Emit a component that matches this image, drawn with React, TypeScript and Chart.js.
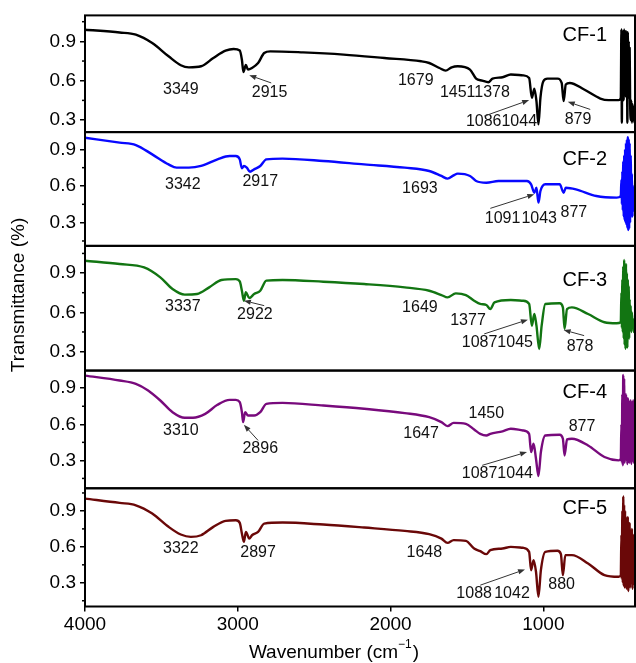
import { useEffect, useRef } from 'react';
import { Chart, registerables } from 'chart.js';

Chart.register(...registerables);

const FONT = 'Arial, "Liberation Sans", Helvetica, sans-serif';

// ---- axis ticks ----
const xTickValues = [4000, 3000, 2000, 1000];
const yTickValues = [0.3, 0.6, 0.9];
const yMinorValues = [0.15, 0.45, 0.75, 1.05];

// ---- series ----
const seriesNames = ['CF-1', 'CF-2', 'CF-3', 'CF-4', 'CF-5'];

const cf1Wn = [4000, 3773, 3667, 3560, 3453, 3373, 3320, 3240, 3160, 3080, 3027, 2987, 2973, 2963, 2947, 2933, 2907, 2867, 2827, 2787, 2573, 2307, 2040, 1800, 1747, 1680, 1640, 1600, 1560, 1480, 1440, 1400, 1360, 1333, 1267, 1213, 1133, 1093, 1075, 1059, 1045, 1032, 1019, 1000, 973, 907, 880, 867, 853, 827, 733, 627, 573, 507, 493];
const cf1T = [0.989, 0.968, 0.951, 0.887, 0.786, 0.718, 0.702, 0.71, 0.773, 0.829, 0.842, 0.83, 0.76, 0.667, 0.72, 0.685, 0.697, 0.735, 0.811, 0.824, 0.816, 0.799, 0.773, 0.748, 0.735, 0.697, 0.677, 0.702, 0.71, 0.685, 0.616, 0.601, 0.588, 0.616, 0.626, 0.647, 0.641, 0.621, 0.47, 0.54, 0.444, 0.267, 0.47, 0.596, 0.616, 0.616, 0.583, 0.444, 0.571, 0.583, 0.533, 0.464, 0.452, 0.452, 0.47];

const cf2Wn = [4000, 3773, 3667, 3560, 3453, 3400, 3320, 3240, 3133, 3053, 3013, 2987, 2973, 2960, 2941, 2920, 2893, 2853, 2813, 2707, 2440, 2173, 1907, 1747, 1667, 1627, 1587, 1560, 1480, 1440, 1373, 1293, 1107, 1080, 1059, 1045, 1032, 1019, 987, 893, 867, 853, 787, 653, 520, 493];
const cf2T = [0.995, 0.955, 0.935, 0.859, 0.777, 0.75, 0.75, 0.764, 0.818, 0.845, 0.845, 0.818, 0.745, 0.764, 0.75, 0.717, 0.736, 0.764, 0.818, 0.824, 0.805, 0.777, 0.75, 0.723, 0.682, 0.66, 0.687, 0.701, 0.682, 0.641, 0.627, 0.641, 0.641, 0.614, 0.545, 0.586, 0.464, 0.559, 0.614, 0.614, 0.545, 0.586, 0.573, 0.518, 0.505, 0.518];

const cf3Wn = [4000, 3773, 3613, 3507, 3427, 3347, 3267, 3187, 3107, 3013, 2987, 2973, 2960, 2947, 2925, 2893, 2853, 2813, 2707, 2440, 2173, 1907, 1747, 1667, 1627, 1573, 1507, 1453, 1413, 1373, 1347, 1320, 1213, 1133, 1093, 1075, 1059, 1045, 1027, 1011, 987, 893, 872, 861, 845, 813, 707, 600, 520, 493];
const cf3T = [0.994, 0.969, 0.943, 0.867, 0.778, 0.735, 0.74, 0.791, 0.847, 0.854, 0.836, 0.765, 0.689, 0.753, 0.709, 0.74, 0.765, 0.842, 0.847, 0.834, 0.816, 0.791, 0.765, 0.732, 0.714, 0.745, 0.732, 0.689, 0.664, 0.656, 0.625, 0.676, 0.694, 0.689, 0.664, 0.498, 0.587, 0.498, 0.32, 0.498, 0.664, 0.669, 0.638, 0.473, 0.625, 0.638, 0.587, 0.524, 0.516, 0.524];

const cf4Wn = [4000, 3773, 3667, 3587, 3507, 3427, 3347, 3293, 3213, 3133, 3053, 3013, 2987, 2973, 2965, 2952, 2933, 2893, 2853, 2813, 2707, 2440, 2173, 1907, 1747, 1667, 1627, 1587, 1507, 1453, 1413, 1373, 1347, 1267, 1213, 1133, 1093, 1080, 1064, 1048, 1032, 1016, 987, 893, 872, 861, 845, 813, 707, 600, 507, 493];
const cf4T = [1.005, 0.964, 0.936, 0.881, 0.798, 0.701, 0.654, 0.654, 0.687, 0.762, 0.803, 0.803, 0.784, 0.701, 0.618, 0.701, 0.673, 0.673, 0.701, 0.77, 0.778, 0.756, 0.729, 0.693, 0.659, 0.618, 0.585, 0.612, 0.604, 0.557, 0.521, 0.507, 0.521, 0.541, 0.563, 0.549, 0.521, 0.369, 0.438, 0.314, 0.17, 0.369, 0.507, 0.513, 0.48, 0.341, 0.474, 0.48, 0.424, 0.328, 0.3, 0.314];

const cf5Wn = [4000, 3773, 3667, 3560, 3453, 3373, 3307, 3240, 3160, 3080, 3013, 2987, 2973, 2960, 2947, 2925, 2907, 2867, 2827, 2707, 2440, 2173, 1907, 1747, 1667, 1627, 1587, 1507, 1453, 1413, 1373, 1347, 1267, 1213, 1133, 1093, 1080, 1064, 1048, 1032, 1016, 987, 907, 885, 872, 856, 813, 707, 600, 507, 493];
const cf5T = [1.003, 0.967, 0.947, 0.878, 0.767, 0.703, 0.683, 0.697, 0.767, 0.817, 0.822, 0.8, 0.711, 0.642, 0.725, 0.669, 0.697, 0.725, 0.794, 0.803, 0.786, 0.761, 0.733, 0.706, 0.669, 0.633, 0.656, 0.65, 0.586, 0.564, 0.539, 0.572, 0.586, 0.6, 0.592, 0.558, 0.405, 0.489, 0.392, 0.183, 0.405, 0.558, 0.567, 0.539, 0.364, 0.531, 0.531, 0.461, 0.364, 0.35, 0.364];

// low-wavenumber noisy region (shared wavenumbers)
const noiseWn = [489, 486, 483, 480, 477, 474, 471, 468, 465, 462, 459, 456, 453, 450, 447, 444, 441, 438, 435, 432, 428, 424, 420, 416, 412, 408, 404, 400];
const cf1Noise = [0.99, 0.28, 0.98, 0.5, 0.97, 0.45, 0.99, 0.55, 0.96, 0.48, 0.98, 0.5, 0.95, 0.28, 0.97, 0.5, 0.9, 0.47, 0.85, 0.45, 0.3, 0.45, 0.28, 0.42, 0.3, 0.4, 0.28, 0.35];
const cf2Noise = [0.65, 0.45, 0.72, 0.4, 0.8, 0.35, 0.85, 0.32, 0.9, 0.3, 0.95, 0.28, 0.98, 0.26, 1.0, 0.24, 0.98, 0.25, 0.95, 0.3, 0.85, 0.35, 0.7, 0.35, 0.6, 0.4, 0.55, 0.45];
const cf3Noise = [0.75, 0.48, 0.85, 0.45, 0.95, 0.4, 1.0, 0.35, 0.92, 0.32, 0.97, 0.4, 0.9, 0.33, 0.85, 0.45, 0.8, 0.4, 0.7, 0.5, 0.65, 0.45, 0.6, 0.5, 0.55, 0.45, 0.5, 0.48];
const cf4Noise = [0.6, 0.28, 0.85, 0.26, 1.01, 0.3, 0.98, 0.28, 0.7, 0.35, 0.85, 0.3, 0.78, 0.27, 0.82, 0.3, 0.8, 0.28, 0.75, 0.3, 0.8, 0.27, 0.78, 0.3, 0.8, 0.28, 0.75, 0.3];
const cf5Noise = [0.7, 0.33, 0.9, 0.3, 1.02, 0.28, 0.95, 0.26, 0.9, 0.3, 0.85, 0.25, 0.8, 0.3, 0.85, 0.23, 0.75, 0.3, 0.8, 0.26, 0.7, 0.3, 0.75, 0.25, 0.7, 0.3, 0.65, 0.28];

// ---- peak labels (panel index, text, anchor wavenumber, anchor transmittance) ----
const peakLabels = [
  { p: 0, text: '3349', wn: 3373, t: 0.533 },
  { p: 0, text: '2915', wn: 2792, t: 0.507 },
  { p: 0, text: '1679', wn: 1835, t: 0.604 },
  { p: 0, text: '14511378', wn: 1448, t: 0.507 },
  { p: 0, text: '10861044', wn: 1274, t: 0.287 },
  { p: 0, text: '879', wn: 773, t: 0.305 },
  { p: 1, text: '3342', wn: 3360, t: 0.614 },
  { p: 1, text: '2917', wn: 2853, t: 0.636 },
  { p: 1, text: '1693', wn: 1808, t: 0.581 },
  { p: 1, text: '1091', wn: 1267, t: 0.335 },
  { p: 1, text: '1043', wn: 1027, t: 0.335 },
  { p: 1, text: '877', wn: 800, t: 0.382 },
  { p: 2, text: '3337', wn: 3360, t: 0.646 },
  { p: 2, text: '2922', wn: 2888, t: 0.582 },
  { p: 2, text: '1649', wn: 1808, t: 0.638 },
  { p: 2, text: '1377', wn: 1493, t: 0.536 },
  { p: 2, text: '10871045', wn: 1301, t: 0.371 },
  { p: 2, text: '878', wn: 760, t: 0.338 },
  { p: 3, text: '3310', wn: 3373, t: 0.549 },
  { p: 3, text: '2896', wn: 2853, t: 0.397 },
  { p: 3, text: '1647', wn: 1800, t: 0.521 },
  { p: 3, text: '1450', wn: 1373, t: 0.687 },
  { p: 3, text: '10871044', wn: 1301, t: 0.189 },
  { p: 3, text: '877', wn: 747, t: 0.577 },
  { p: 4, text: '3322', wn: 3373, t: 0.586 },
  { p: 4, text: '2897', wn: 2867, t: 0.55 },
  { p: 4, text: '1648', wn: 1779, t: 0.55 },
  { p: 4, text: '1088', wn: 1453, t: 0.211 },
  { p: 4, text: '1042', wn: 1205, t: 0.211 },
  { p: 4, text: '880', wn: 880, t: 0.286 },
];

const peakArrows = [
  { p: 0, fromWn: 2781, fromT: 0.583, toWn: 2925, toT: 0.642 },
  { p: 0, fromWn: 1387, fromT: 0.33, toWn: 1093, toT: 0.452 },
  { p: 0, fromWn: 693, fromT: 0.381, toWn: 840, toT: 0.439 },
  { p: 1, fromWn: 1347, fromT: 0.417, toWn: 1059, toT: 0.532 },
  { p: 2, fromWn: 2827, fromT: 0.651, toWn: 2960, toT: 0.689 },
  { p: 2, fromWn: 1387, fromT: 0.435, toWn: 1101, toT: 0.544 },
  { p: 2, fromWn: 733, fromT: 0.422, toWn: 867, toT: 0.465 },
  { p: 3, fromWn: 2867, fromT: 0.466, toWn: 2960, toT: 0.596 },
  { p: 3, fromWn: 1400, fromT: 0.259, toWn: 1107, toT: 0.369 },
  { p: 4, fromWn: 1413, fromT: 0.28, toWn: 1120, toT: 0.411 },
];

const nameLabelWn = 583;
const nameLabelT = [0.946, 0.821, 0.841, 0.864, 0.922];

// ---- styling / layout config ----
const seriesColors = ['#000000', '#0808ff', '#127512', '#780a7c', '#6a0808'];
const panelMin = [0.208, 0.11, 0.155, 0.068, 0.102];
const panelMax = [1.098, 1.041, 1.108, 1.047, 1.089];
const panelWeight = [117, 114, 125, 118, 118.5];
const panelIds = ['y1', 'y2', 'y3', 'y4', 'y5'];

const allWn = [cf1Wn, cf2Wn, cf3Wn, cf4Wn, cf5Wn];
const allT = [cf1T, cf2T, cf3T, cf4T, cf5T];
const allNoise = [cf1Noise, cf2Noise, cf3Noise, cf4Noise, cf5Noise];

const decorPlugin = {
  id: 'decor',
  afterDatasetsDraw(chart: any) {
    const ctx = chart.ctx;
    const area = chart.chartArea;
    const xs = chart.scales.x;
    ctx.save();
    // panel boxes and minor ticks
    panelIds.forEach((id) => {
      const s = chart.scales[id];
      ctx.strokeStyle = '#000';
      ctx.lineWidth = 2;
      ctx.strokeRect(area.left, s.top, area.right - area.left, s.bottom - s.top);
      ctx.lineWidth = 1.5;
      yMinorValues.forEach((v) => {
        if (v <= s.min || v >= s.max) return;
        const y = s.getPixelForValue(v);
        ctx.beginPath();
        ctx.moveTo(area.left - 3, y);
        ctx.lineTo(area.left, y);
        ctx.stroke();
      });
    });
    // peak labels
    ctx.fillStyle = '#111';
    ctx.font = `16px ${FONT}`;
    ctx.textAlign = 'center';
    ctx.textBaseline = 'middle';
    peakLabels.forEach((l) => {
      const s = chart.scales[panelIds[l.p]];
      ctx.fillText(l.text, xs.getPixelForValue(l.wn), s.getPixelForValue(l.t));
    });
    // arrows
    ctx.strokeStyle = '#333';
    ctx.fillStyle = '#333';
    ctx.lineWidth = 1;
    peakArrows.forEach((a) => {
      const s = chart.scales[panelIds[a.p]];
      const x0 = xs.getPixelForValue(a.fromWn);
      const y0 = s.getPixelForValue(a.fromT);
      const x1 = xs.getPixelForValue(a.toWn);
      const y1 = s.getPixelForValue(a.toT);
      const ang = Math.atan2(y1 - y0, x1 - x0);
      const hl = 7;
      const hw = 2.6;
      const bx = x1 - hl * Math.cos(ang);
      const by = y1 - hl * Math.sin(ang);
      ctx.beginPath();
      ctx.moveTo(x0, y0);
      ctx.lineTo(bx, by);
      ctx.stroke();
      ctx.beginPath();
      ctx.moveTo(x1, y1);
      ctx.lineTo(bx + hw * Math.sin(ang), by - hw * Math.cos(ang));
      ctx.lineTo(bx - hw * Math.sin(ang), by + hw * Math.cos(ang));
      ctx.closePath();
      ctx.fill();
    });
    // series names
    ctx.fillStyle = '#000';
    ctx.font = `20px ${FONT}`;
    ctx.textAlign = 'right';
    seriesNames.forEach((n, i) => {
      const s = chart.scales[panelIds[i]];
      ctx.fillText(n, xs.getPixelForValue(nameLabelWn), s.getPixelForValue(nameLabelT[i]));
    });
    // y title
    ctx.font = `19px ${FONT}`;
    ctx.textAlign = 'center';
    ctx.save();
    ctx.translate(19, 295);
    ctx.rotate(-Math.PI / 2);
    ctx.fillText('Transmittance (%)', 0, 0);
    ctx.restore();
    // x title with superscript
    const main = 'Wavenumber (cm';
    const sup = '\u22121';
    const tail = ')';
    ctx.font = `19px ${FONT}`;
    const wMain = ctx.measureText(main).width;
    const wTail = ctx.measureText(tail).width;
    ctx.font = `12px ${FONT}`;
    const wSup = ctx.measureText(sup).width;
    const total = wMain + wSup + wTail + 1;
    let x = 334 - total / 2;
    const yT = 653;
    ctx.textAlign = 'left';
    ctx.font = `19px ${FONT}`;
    ctx.fillText(main, x, yT);
    x += wMain;
    ctx.font = `12px ${FONT}`;
    ctx.fillText(sup, x, yT - 8);
    x += wSup + 1;
    ctx.font = `19px ${FONT}`;
    ctx.fillText(tail, x, yT);
    ctx.restore();
  },
};

export default function App() {
  const ref = useRef<HTMLCanvasElement | null>(null);
  useEffect(() => {
    if (!ref.current) return;
    const datasets = seriesNames.map((name, i) => ({
      label: name,
      data: allWn[i].concat(noiseWn).map((w, j) => ({
        x: w,
        y: j < allT[i].length ? allT[i][j] : allNoise[i][j - allT[i].length],
      })),
      yAxisID: panelIds[i],
      borderColor: seriesColors[i],
      borderWidth: 2.4,
      borderJoinStyle: 'round',
      pointRadius: 0,
      cubicInterpolationMode: 'monotone',
      fill: false,
    }));
    const yScale = (i: number) => ({
      type: 'linear',
      position: 'left',
      stack: 'panels',
      stackWeight: panelWeight[i],
      min: panelMin[i],
      max: panelMax[i],
      afterFit: (s: any) => {
        s.width = 85;
      },
      afterBuildTicks: (s: any) => {
        s.ticks = yTickValues.map((v) => ({ value: v }));
      },
      ticks: {
        color: '#000',
        padding: 4,
        font: { family: FONT, size: 19 },
        callback: (v: any) => Number(v).toFixed(1),
      },
      grid: {
        drawOnChartArea: false,
        drawTicks: true,
        tickLength: 5,
        color: '#000',
        lineWidth: 1.5,
      },
      border: { display: false },
    });
    const scales: any = {
      x: {
        type: 'linear',
        position: 'bottom',
        reverse: true,
        min: 400,
        max: 4000,
        afterFit: (s: any) => {
          s.height = 56.5;
        },
        afterBuildTicks: (s: any) => {
          s.ticks = xTickValues.map((v) => ({ value: v }));
        },
        ticks: {
          color: '#000',
          padding: 2,
          maxRotation: 0,
          font: { family: FONT, size: 19 },
          callback: (v: any) => String(v),
        },
        grid: {
          drawOnChartArea: false,
          drawTicks: true,
          tickLength: 5,
          color: '#000',
          lineWidth: 1.5,
        },
        border: { display: false },
      },
    };
    for (let i = 4; i >= 0; i--) scales[panelIds[i]] = yScale(i);
    const chart = new Chart(ref.current, {
      type: 'line',
      data: { datasets } as any,
      options: {
        responsive: false,
        animation: false,
        devicePixelRatio: 1,
        parsing: false,
        normalized: true,
        layout: { padding: { top: 14, right: 1, left: 0, bottom: 0 } },
        plugins: { legend: { display: false }, tooltip: { enabled: false } },
        scales,
      } as any,
      plugins: [decorPlugin],
    });
    return () => chart.destroy();
  }, []);
  return (
    <div style={{ position: 'absolute', left: 0, top: 0, width: 636, height: 663, background: '#fff' }}>
      <canvas ref={ref} width={636} height={663} />
    </div>
  );
}
